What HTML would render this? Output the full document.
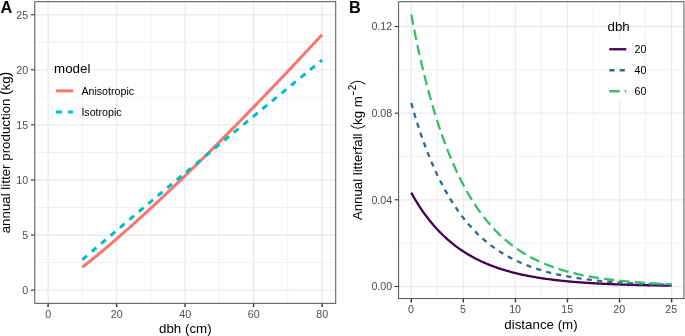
<!DOCTYPE html>
<html><head><meta charset="utf-8"><title>Figure</title>
<style>
html,body{margin:0;padding:0;background:#ffffff;}
body{width:685px;height:336px;overflow:hidden;font-family:"Liberation Sans",sans-serif;}
svg text{font-family:"Liberation Sans",sans-serif;}
</style></head><body>
<svg width="685" height="336" viewBox="0 0 685 336" style="display:block;will-change:transform">
<rect x="0" y="0" width="685" height="336" fill="#ffffff"/>
<g>
<line x1="82.34" x2="82.34" y1="1.3" y2="303.7" stroke="#ebebeb" stroke-width="0.7"/>
<line x1="150.84" x2="150.84" y1="1.3" y2="303.7" stroke="#ebebeb" stroke-width="0.7"/>
<line x1="219.32" x2="219.32" y1="1.3" y2="303.7" stroke="#ebebeb" stroke-width="0.7"/>
<line x1="287.81" x2="287.81" y1="1.3" y2="303.7" stroke="#ebebeb" stroke-width="0.7"/>
<line y1="262.55" y2="262.55" x1="34.4" x2="336.2" stroke="#ebebeb" stroke-width="0.7"/>
<line y1="207.48" y2="207.48" x1="34.4" x2="336.2" stroke="#ebebeb" stroke-width="0.7"/>
<line y1="152.42" y2="152.42" x1="34.4" x2="336.2" stroke="#ebebeb" stroke-width="0.7"/>
<line y1="97.35" y2="97.35" x1="34.4" x2="336.2" stroke="#ebebeb" stroke-width="0.7"/>
<line y1="42.29" y2="42.29" x1="34.4" x2="336.2" stroke="#ebebeb" stroke-width="0.7"/>
<line x1="48.10" x2="48.10" y1="1.3" y2="303.7" stroke="#ebebeb" stroke-width="1.35"/>
<line x1="116.59" x2="116.59" y1="1.3" y2="303.7" stroke="#ebebeb" stroke-width="1.35"/>
<line x1="185.08" x2="185.08" y1="1.3" y2="303.7" stroke="#ebebeb" stroke-width="1.35"/>
<line x1="253.57" x2="253.57" y1="1.3" y2="303.7" stroke="#ebebeb" stroke-width="1.35"/>
<line x1="322.06" x2="322.06" y1="1.3" y2="303.7" stroke="#ebebeb" stroke-width="1.35"/>
<line y1="290.08" y2="290.08" x1="34.4" x2="336.2" stroke="#ebebeb" stroke-width="1.35"/>
<line y1="235.01" y2="235.01" x1="34.4" x2="336.2" stroke="#ebebeb" stroke-width="1.35"/>
<line y1="179.95" y2="179.95" x1="34.4" x2="336.2" stroke="#ebebeb" stroke-width="1.35"/>
<line y1="124.88" y2="124.88" x1="34.4" x2="336.2" stroke="#ebebeb" stroke-width="1.35"/>
<line y1="69.82" y2="69.82" x1="34.4" x2="336.2" stroke="#ebebeb" stroke-width="1.35"/>
<line y1="14.75" y2="14.75" x1="34.4" x2="336.2" stroke="#ebebeb" stroke-width="1.35"/>
<polyline points="82.34,267.17 84.06,265.83 85.77,264.49 87.48,263.14 89.19,261.77 90.91,260.40 92.62,259.02 94.33,257.63 96.04,256.23 97.76,254.83 99.47,253.42 101.18,251.99 102.89,250.57 104.60,249.13 106.32,247.69 108.03,246.24 109.74,244.78 111.45,243.32 113.17,241.85 114.88,240.38 116.59,238.90 118.30,237.41 120.01,235.92 121.73,234.42 123.44,232.92 125.15,231.41 126.86,229.89 128.58,228.37 130.29,226.85 132.00,225.32 133.71,223.78 135.42,222.25 137.14,220.70 138.85,219.15 140.56,217.60 142.27,216.04 143.99,214.48 145.70,212.91 147.41,211.34 149.12,209.76 150.84,208.18 152.55,206.59 154.26,205.00 155.97,203.41 157.68,201.81 159.40,200.21 161.11,198.61 162.82,197.00 164.53,195.39 166.25,193.77 167.96,192.15 169.67,190.53 171.38,188.90 173.09,187.27 174.81,185.63 176.52,183.99 178.23,182.35 179.94,180.71 181.66,179.06 183.37,177.41 185.08,175.75 186.79,174.09 188.50,172.43 190.22,170.76 191.93,169.10 193.64,167.42 195.35,165.75 197.07,164.07 198.78,162.39 200.49,160.71 202.20,159.02 203.91,157.33 205.63,155.64 207.34,153.94 209.05,152.24 210.76,150.54 212.48,148.84 214.19,147.13 215.90,145.42 217.61,143.71 219.32,141.99 221.04,140.27 222.75,138.55 224.46,136.83 226.17,135.10 227.89,133.37 229.60,131.64 231.31,129.90 233.02,128.17 234.74,126.43 236.45,124.69 238.16,122.94 239.87,121.19 241.58,119.44 243.30,117.69 245.01,115.94 246.72,114.18 248.43,112.42 250.15,110.66 251.86,108.90 253.57,107.13 255.28,105.36 256.99,103.59 258.71,101.81 260.42,100.04 262.13,98.26 263.84,96.48 265.56,94.70 267.27,92.91 268.98,91.13 270.69,89.34 272.40,87.54 274.12,85.75 275.83,83.95 277.54,82.16 279.25,80.36 280.97,78.55 282.68,76.75 284.39,74.94 286.10,73.13 287.81,71.32 289.53,69.51 291.24,67.70 292.95,65.88 294.66,64.06 296.38,62.24 298.09,60.42 299.80,58.59 301.51,56.76 303.23,54.94 304.94,53.10 306.65,51.27 308.36,49.44 310.07,47.60 311.79,45.76 313.50,43.92 315.21,42.08 316.92,40.23 318.64,38.39 320.35,36.54 322.06,34.69" fill="none" stroke="#f8766d" stroke-width="3.0" stroke-linejoin="round"/>
<polyline points="82.34,259.74 84.06,258.26 85.77,256.79 87.48,255.31 89.19,253.84 90.91,252.37 92.62,250.90 94.33,249.44 96.04,247.97 97.76,246.51 99.47,245.04 101.18,243.58 102.89,242.12 104.60,240.66 106.32,239.20 108.03,237.74 109.74,236.29 111.45,234.83 113.17,233.38 114.88,231.92 116.59,230.47 118.30,229.02 120.01,227.57 121.73,226.12 123.44,224.67 125.15,223.22 126.86,221.78 128.58,220.33 130.29,218.89 132.00,217.44 133.71,216.00 135.42,214.55 137.14,213.11 138.85,211.67 140.56,210.23 142.27,208.79 143.99,207.35 145.70,205.91 147.41,204.47 149.12,203.03 150.84,201.60 152.55,200.16 154.26,198.72 155.97,197.29 157.68,195.85 159.40,194.42 161.11,192.99 162.82,191.55 164.53,190.12 166.25,188.69 167.96,187.26 169.67,185.83 171.38,184.40 173.09,182.97 174.81,181.54 176.52,180.11 178.23,178.68 179.94,177.25 181.66,175.82 183.37,174.40 185.08,172.97 186.79,171.55 188.50,170.12 190.22,168.69 191.93,167.27 193.64,165.85 195.35,164.42 197.07,163.00 198.78,161.58 200.49,160.15 202.20,158.73 203.91,157.31 205.63,155.89 207.34,154.47 209.05,153.05 210.76,151.63 212.48,150.21 214.19,148.79 215.90,147.37 217.61,145.95 219.32,144.53 221.04,143.11 222.75,141.70 224.46,140.28 226.17,138.86 227.89,137.45 229.60,136.03 231.31,134.62 233.02,133.20 234.74,131.78 236.45,130.37 238.16,128.96 239.87,127.54 241.58,126.13 243.30,124.71 245.01,123.30 246.72,121.89 248.43,120.48 250.15,119.06 251.86,117.65 253.57,116.24 255.28,114.83 256.99,113.42 258.71,112.01 260.42,110.60 262.13,109.19 263.84,107.78 265.56,106.37 267.27,104.96 268.98,103.55 270.69,102.14 272.40,100.73 274.12,99.32 275.83,97.92 277.54,96.51 279.25,95.10 280.97,93.70 282.68,92.29 284.39,90.88 286.10,89.48 287.81,88.07 289.53,86.66 291.24,85.26 292.95,83.85 294.66,82.45 296.38,81.04 298.09,79.64 299.80,78.24 301.51,76.83 303.23,75.43 304.94,74.02 306.65,72.62 308.36,71.22 310.07,69.82 311.79,68.41 313.50,67.01 315.21,65.61 316.92,64.21 318.64,62.81 320.35,61.40 322.06,60.00" fill="none" stroke="#00bfc4" stroke-width="3.0" stroke-dasharray="6.18 6.18" stroke-linejoin="round"/>
<rect x="54.2" y="80.70" width="21.00" height="42" fill="#ffffff"/>
<line x1="56.1" x2="73.1" y1="90.90" y2="90.90" stroke="#f8766d" stroke-width="3.0"/>
<text x="81.4" y="95.05" font-family="Liberation Sans, sans-serif" font-size="10.67" fill="#000000">Anisotropic</text>
<line x1="56.1" x2="73.1" y1="111.90" y2="111.90" stroke="#00bfc4" stroke-width="3.0" stroke-dasharray="6 6"/>
<text x="81.4" y="116.05" font-family="Liberation Sans, sans-serif" font-size="10.67" fill="#000000">Isotropic</text>
<text x="54.1" y="72.5" font-family="Liberation Sans, sans-serif" font-size="13.33" fill="#000000">model</text>
<rect x="34.82" y="1.73" width="300.95" height="301.55" fill="none" stroke="#333333" stroke-width="0.85"/>
<line x1="31.00" x2="34.4" y1="290.08" y2="290.08" stroke="#333333" stroke-width="1.15"/>
<text x="28.1" y="293.78" text-anchor="end" font-family="Liberation Sans, sans-serif" font-size="10.67" fill="#4d4d4d">0</text>
<line x1="31.00" x2="34.4" y1="235.01" y2="235.01" stroke="#333333" stroke-width="1.15"/>
<text x="28.1" y="238.71" text-anchor="end" font-family="Liberation Sans, sans-serif" font-size="10.67" fill="#4d4d4d">5</text>
<line x1="31.00" x2="34.4" y1="179.95" y2="179.95" stroke="#333333" stroke-width="1.15"/>
<text x="28.1" y="183.65" text-anchor="end" font-family="Liberation Sans, sans-serif" font-size="10.67" fill="#4d4d4d">10</text>
<line x1="31.00" x2="34.4" y1="124.88" y2="124.88" stroke="#333333" stroke-width="1.15"/>
<text x="28.1" y="128.58" text-anchor="end" font-family="Liberation Sans, sans-serif" font-size="10.67" fill="#4d4d4d">15</text>
<line x1="31.00" x2="34.4" y1="69.82" y2="69.82" stroke="#333333" stroke-width="1.15"/>
<text x="28.1" y="73.52" text-anchor="end" font-family="Liberation Sans, sans-serif" font-size="10.67" fill="#4d4d4d">20</text>
<line x1="31.00" x2="34.4" y1="14.75" y2="14.75" stroke="#333333" stroke-width="1.15"/>
<text x="28.1" y="19.20" text-anchor="end" font-family="Liberation Sans, sans-serif" font-size="10.67" fill="#4d4d4d">25</text>
<line y1="303.7" y2="307.10" x1="48.10" x2="48.10" stroke="#333333" stroke-width="1.4"/>
<text y="317.8" x="48.20" text-anchor="middle" font-family="Liberation Sans, sans-serif" font-size="10.67" fill="#4d4d4d">0</text>
<line y1="303.7" y2="307.10" x1="116.59" x2="116.59" stroke="#333333" stroke-width="1.4"/>
<text y="317.8" x="116.69" text-anchor="middle" font-family="Liberation Sans, sans-serif" font-size="10.67" fill="#4d4d4d">20</text>
<line y1="303.7" y2="307.10" x1="185.08" x2="185.08" stroke="#333333" stroke-width="1.4"/>
<text y="317.8" x="185.18" text-anchor="middle" font-family="Liberation Sans, sans-serif" font-size="10.67" fill="#4d4d4d">40</text>
<line y1="303.7" y2="307.10" x1="253.57" x2="253.57" stroke="#333333" stroke-width="1.4"/>
<text y="317.8" x="253.67" text-anchor="middle" font-family="Liberation Sans, sans-serif" font-size="10.67" fill="#4d4d4d">60</text>
<line y1="303.7" y2="307.10" x1="322.06" x2="322.06" stroke="#333333" stroke-width="1.4"/>
<text y="317.8" x="322.16" text-anchor="middle" font-family="Liberation Sans, sans-serif" font-size="10.67" fill="#4d4d4d">80</text>
<text x="185.3" y="332.85" text-anchor="middle" font-family="Liberation Sans, sans-serif" font-size="13.33" fill="#000000">dbh (cm)</text>
<text transform="translate(10.2,152.5) rotate(-90)" text-anchor="middle" font-family="Liberation Sans, sans-serif" font-size="13.33" fill="#000000">annual litter production <tspan font-size="15" dx="-0.3">(</tspan><tspan dx="-0.3">kg</tspan><tspan font-size="15" dx="-0.3">)</tspan></text>
<text x="0.45" y="12.75" font-family="Liberation Sans, sans-serif" font-size="16.3" font-weight="bold" fill="#000000">A</text>
</g>
<g>
<line x1="437.33" x2="437.33" y1="1.3" y2="299.05" stroke="#ebebeb" stroke-width="0.7"/>
<line x1="489.39" x2="489.39" y1="1.3" y2="299.05" stroke="#ebebeb" stroke-width="0.7"/>
<line x1="541.45" x2="541.45" y1="1.3" y2="299.05" stroke="#ebebeb" stroke-width="0.7"/>
<line x1="593.51" x2="593.51" y1="1.3" y2="299.05" stroke="#ebebeb" stroke-width="0.7"/>
<line x1="645.57" x2="645.57" y1="1.3" y2="299.05" stroke="#ebebeb" stroke-width="0.7"/>
<line y1="243.13" y2="243.13" x1="398.25" x2="684.35" stroke="#ebebeb" stroke-width="0.7"/>
<line y1="156.49" y2="156.49" x1="398.25" x2="684.35" stroke="#ebebeb" stroke-width="0.7"/>
<line y1="69.85" y2="69.85" x1="398.25" x2="684.35" stroke="#ebebeb" stroke-width="0.7"/>
<line x1="411.30" x2="411.30" y1="1.3" y2="299.05" stroke="#ebebeb" stroke-width="1.35"/>
<line x1="463.36" x2="463.36" y1="1.3" y2="299.05" stroke="#ebebeb" stroke-width="1.35"/>
<line x1="515.42" x2="515.42" y1="1.3" y2="299.05" stroke="#ebebeb" stroke-width="1.35"/>
<line x1="567.48" x2="567.48" y1="1.3" y2="299.05" stroke="#ebebeb" stroke-width="1.35"/>
<line x1="619.54" x2="619.54" y1="1.3" y2="299.05" stroke="#ebebeb" stroke-width="1.35"/>
<line x1="671.60" x2="671.60" y1="1.3" y2="299.05" stroke="#ebebeb" stroke-width="1.35"/>
<line y1="286.45" y2="286.45" x1="398.25" x2="684.35" stroke="#ebebeb" stroke-width="1.35"/>
<line y1="199.81" y2="199.81" x1="398.25" x2="684.35" stroke="#ebebeb" stroke-width="1.35"/>
<line y1="113.17" y2="113.17" x1="398.25" x2="684.35" stroke="#ebebeb" stroke-width="1.35"/>
<line y1="26.53" y2="26.53" x1="398.25" x2="684.35" stroke="#ebebeb" stroke-width="1.35"/>
<polyline points="411.30,192.66 412.34,194.61 413.38,196.47 414.42,198.28 415.46,200.04 416.51,201.76 417.55,203.45 418.59,205.09 419.63,206.70 420.67,208.28 421.71,209.82 422.75,211.32 423.79,212.80 424.84,214.24 425.88,215.66 426.92,217.05 427.96,218.40 429.00,219.73 430.04,221.04 431.08,222.31 432.12,223.56 433.17,224.79 434.21,225.99 435.25,227.16 436.29,228.31 437.33,229.44 438.37,230.55 439.41,231.63 440.45,232.70 441.49,233.74 442.54,234.76 443.58,235.76 444.62,236.74 445.66,237.70 446.70,238.64 447.74,239.57 448.78,240.47 449.82,241.36 450.87,242.23 451.91,243.08 452.95,243.92 453.99,244.74 455.03,245.54 456.07,246.33 457.11,247.10 458.15,247.86 459.20,248.60 460.24,249.33 461.28,250.04 462.32,250.74 463.36,251.43 464.40,252.10 465.44,252.76 466.48,253.41 467.52,254.04 468.57,254.66 469.61,255.27 470.65,255.87 471.69,256.46 472.73,257.03 473.77,257.59 474.81,258.15 475.85,258.69 476.90,259.22 477.94,259.74 478.98,260.25 480.02,260.75 481.06,261.25 482.10,261.73 483.14,262.20 484.18,262.66 485.23,263.12 486.27,263.56 487.31,264.00 488.35,264.43 489.39,264.85 490.43,265.26 491.47,265.67 492.51,266.06 493.55,266.45 494.60,266.83 495.64,267.21 496.68,267.57 497.72,267.93 498.76,268.29 499.80,268.63 500.84,268.97 501.88,269.31 502.93,269.63 503.97,269.95 505.01,270.27 506.05,270.57 507.09,270.88 508.13,271.17 509.17,271.46 510.21,271.75 511.26,272.03 512.30,272.30 513.34,272.57 514.38,272.84 515.42,273.09 516.46,273.35 517.50,273.60 518.54,273.84 519.58,274.08 520.63,274.32 521.67,274.55 522.71,274.77 523.75,274.99 524.79,275.21 525.83,275.42 526.87,275.63 527.91,275.84 528.96,276.04 530.00,276.24 531.04,276.43 532.08,276.62 533.12,276.81 534.16,276.99 535.20,277.17 536.24,277.35 537.29,277.52 538.33,277.69 539.37,277.85 540.41,278.02 541.45,278.18 542.49,278.33 543.53,278.49 544.57,278.64 545.61,278.79 546.66,278.93 547.70,279.07 548.74,279.21 549.78,279.35 550.82,279.48 551.86,279.62 552.90,279.74 553.94,279.87 554.99,280.00 556.03,280.12 557.07,280.24 558.11,280.36 559.15,280.47 560.19,280.58 561.23,280.69 562.27,280.80 563.32,280.91 564.36,281.01 565.40,281.12 566.44,281.22 567.48,281.32 568.52,281.41 569.56,281.51 570.60,281.60 571.64,281.69 572.69,281.78 573.73,281.87 574.77,281.96 575.81,282.04 576.85,282.13 577.89,282.21 578.93,282.29 579.97,282.37 581.02,282.44 582.06,282.52 583.10,282.59 584.14,282.67 585.18,282.74 586.22,282.81 587.26,282.88 588.30,282.94 589.35,283.01 590.39,283.07 591.43,283.14 592.47,283.20 593.51,283.26 594.55,283.32 595.59,283.38 596.63,283.44 597.67,283.49 598.72,283.55 599.76,283.61 600.80,283.66 601.84,283.71 602.88,283.76 603.92,283.81 604.96,283.86 606.00,283.91 607.05,283.96 608.09,284.01 609.13,284.05 610.17,284.10 611.21,284.14 612.25,284.19 613.29,284.23 614.33,284.27 615.38,284.31 616.42,284.35 617.46,284.39 618.50,284.43 619.54,284.47 620.58,284.50 621.62,284.54 622.66,284.58 623.70,284.61 624.75,284.65 625.79,284.68 626.83,284.71 627.87,284.75 628.91,284.78 629.95,284.81 630.99,284.84 632.03,284.87 633.08,284.90 634.12,284.93 635.16,284.96 636.20,284.99 637.24,285.01 638.28,285.04 639.32,285.07 640.36,285.09 641.41,285.12 642.45,285.14 643.49,285.17 644.53,285.19 645.57,285.22 646.61,285.24 647.65,285.26 648.69,285.28 649.73,285.31 650.78,285.33 651.82,285.35 652.86,285.37 653.90,285.39 654.94,285.41 655.98,285.43 657.02,285.45 658.06,285.47 659.11,285.49 660.15,285.50 661.19,285.52 662.23,285.54 663.27,285.56 664.31,285.57 665.35,285.59 666.39,285.60 667.44,285.62 668.48,285.64 669.52,285.65 670.56,285.67 671.60,285.68" fill="none" stroke="#440154" stroke-width="2.3" stroke-linejoin="round"/>
<polyline points="411.30,102.99 412.34,106.79 413.38,110.43 414.42,113.97 415.46,117.43 416.51,120.79 417.55,124.09 418.59,127.30 419.63,130.45 420.67,133.53 421.71,136.54 422.75,139.49 423.79,142.38 424.84,145.21 425.88,147.98 426.92,150.69 427.96,153.34 429.00,155.94 430.04,158.49 431.08,160.99 432.12,163.43 433.17,165.83 434.21,168.17 435.25,170.47 436.29,172.73 437.33,174.94 438.37,177.10 439.41,179.22 440.45,181.30 441.49,183.34 442.54,185.33 443.58,187.29 444.62,189.21 445.66,191.09 446.70,192.93 447.74,194.74 448.78,196.51 449.82,198.25 450.87,199.95 451.91,201.62 452.95,203.25 453.99,204.86 455.03,206.43 456.07,207.97 457.11,209.48 458.15,210.96 459.20,212.41 460.24,213.84 461.28,215.23 462.32,216.60 463.36,217.94 464.40,219.26 465.44,220.55 466.48,221.81 467.52,223.05 468.57,224.27 469.61,225.46 470.65,226.63 471.69,227.78 472.73,228.90 473.77,230.01 474.81,231.09 475.85,232.15 476.90,233.19 477.94,234.21 478.98,235.21 480.02,236.19 481.06,237.15 482.10,238.09 483.14,239.01 484.18,239.92 485.23,240.81 486.27,241.68 487.31,242.54 488.35,243.38 489.39,244.20 490.43,245.00 491.47,245.80 492.51,246.57 493.55,247.33 494.60,248.08 495.64,248.81 496.68,249.53 497.72,250.23 498.76,250.92 499.80,251.60 500.84,252.26 501.88,252.91 502.93,253.55 503.97,254.18 505.01,254.79 506.05,255.40 507.09,255.99 508.13,256.57 509.17,257.13 510.21,257.69 511.26,258.24 512.30,258.78 513.34,259.30 514.38,259.82 515.42,260.32 516.46,260.82 517.50,261.31 518.54,261.79 519.58,262.25 520.63,262.71 521.67,263.16 522.71,263.61 523.75,264.04 524.79,264.47 525.83,264.88 526.87,265.29 527.91,265.69 528.96,266.09 530.00,266.47 531.04,266.85 532.08,267.22 533.12,267.59 534.16,267.95 535.20,268.30 536.24,268.64 537.29,268.98 538.33,269.31 539.37,269.63 540.41,269.95 541.45,270.27 542.49,270.57 543.53,270.87 544.57,271.17 545.61,271.46 546.66,271.74 547.70,272.02 548.74,272.29 549.78,272.56 550.82,272.82 551.86,273.08 552.90,273.33 553.94,273.58 554.99,273.83 556.03,274.06 557.07,274.30 558.11,274.53 559.15,274.75 560.19,274.97 561.23,275.19 562.27,275.40 563.32,275.61 564.36,275.82 565.40,276.02 566.44,276.22 567.48,276.41 568.52,276.60 569.56,276.78 570.60,276.97 571.64,277.15 572.69,277.32 573.73,277.49 574.77,277.66 575.81,277.83 576.85,277.99 577.89,278.15 578.93,278.31 579.97,278.46 581.02,278.61 582.06,278.76 583.10,278.91 584.14,279.05 585.18,279.19 586.22,279.32 587.26,279.46 588.30,279.59 589.35,279.72 590.39,279.85 591.43,279.97 592.47,280.09 593.51,280.21 594.55,280.33 595.59,280.45 596.63,280.56 597.67,280.67 598.72,280.78 599.76,280.89 600.80,280.99 601.84,281.09 602.88,281.19 603.92,281.29 604.96,281.39 606.00,281.49 607.05,281.58 608.09,281.67 609.13,281.76 610.17,281.85 611.21,281.93 612.25,282.02 613.29,282.10 614.33,282.19 615.38,282.27 616.42,282.34 617.46,282.42 618.50,282.50 619.54,282.57 620.58,282.64 621.62,282.72 622.66,282.79 623.70,282.85 624.75,282.92 625.79,282.99 626.83,283.05 627.87,283.12 628.91,283.18 629.95,283.24 630.99,283.30 632.03,283.36 633.08,283.42 634.12,283.48 635.16,283.53 636.20,283.59 637.24,283.64 638.28,283.69 639.32,283.75 640.36,283.80 641.41,283.85 642.45,283.89 643.49,283.94 644.53,283.99 645.57,284.04 646.61,284.08 647.65,284.13 648.69,284.17 649.73,284.21 650.78,284.25 651.82,284.30 652.86,284.34 653.90,284.38 654.94,284.41 655.98,284.45 657.02,284.49 658.06,284.53 659.11,284.56 660.15,284.60 661.19,284.63 662.23,284.67 663.27,284.70 664.31,284.73 665.35,284.77 666.39,284.80 667.44,284.83 668.48,284.86 669.52,284.89 670.56,284.92 671.60,284.95" fill="none" stroke="#31688e" stroke-width="2.3" stroke-linejoin="round" stroke-dasharray="5.17 5.17"/>
<polyline points="411.30,14.62 412.34,20.25 413.38,25.65 414.42,30.89 415.46,36.01 416.51,41.00 417.55,45.88 418.59,50.64 419.63,55.31 420.67,59.87 421.71,64.33 422.75,68.70 423.79,72.98 424.84,77.17 425.88,81.27 426.92,85.29 427.96,89.22 429.00,93.08 430.04,96.85 431.08,100.55 432.12,104.17 433.17,107.72 434.21,111.20 435.25,114.61 436.29,117.95 437.33,121.22 438.37,124.43 439.41,127.57 440.45,130.65 441.49,133.67 442.54,136.63 443.58,139.53 444.62,142.37 445.66,145.16 446.70,147.89 447.74,150.56 448.78,153.19 449.82,155.76 450.87,158.28 451.91,160.75 452.95,163.18 453.99,165.55 455.03,167.88 456.07,170.16 457.11,172.40 458.15,174.60 459.20,176.75 460.24,178.86 461.28,180.93 462.32,182.96 463.36,184.94 464.40,186.89 465.44,188.80 466.48,190.68 467.52,192.52 468.57,194.32 469.61,196.09 470.65,197.82 471.69,199.52 472.73,201.18 473.77,202.82 474.81,204.42 475.85,205.99 476.90,207.53 477.94,209.04 478.98,210.52 480.02,211.97 481.06,213.40 482.10,214.79 483.14,216.16 484.18,217.51 485.23,218.83 486.27,220.12 487.31,221.38 488.35,222.63 489.39,223.85 490.43,225.04 491.47,226.21 492.51,227.36 493.55,228.49 494.60,229.59 495.64,230.68 496.68,231.74 497.72,232.78 498.76,233.81 499.80,234.81 500.84,235.79 501.88,236.76 502.93,237.71 503.97,238.63 505.01,239.54 506.05,240.44 507.09,241.31 508.13,242.17 509.17,243.01 510.21,243.84 511.26,244.65 512.30,245.45 513.34,246.22 514.38,246.99 515.42,247.74 516.46,248.48 517.50,249.20 518.54,249.90 519.58,250.60 520.63,251.28 521.67,251.95 522.71,252.60 523.75,253.25 524.79,253.88 525.83,254.49 526.87,255.10 527.91,255.70 528.96,256.28 530.00,256.85 531.04,257.41 532.08,257.96 533.12,258.50 534.16,259.03 535.20,259.55 536.24,260.06 537.29,260.56 538.33,261.05 539.37,261.53 540.41,262.01 541.45,262.47 542.49,262.92 543.53,263.37 544.57,263.81 545.61,264.23 546.66,264.66 547.70,265.07 548.74,265.47 549.78,265.87 550.82,266.26 551.86,266.64 552.90,267.02 553.94,267.38 554.99,267.74 556.03,268.10 557.07,268.44 558.11,268.79 559.15,269.12 560.19,269.45 561.23,269.77 562.27,270.08 563.32,270.39 564.36,270.70 565.40,270.99 566.44,271.29 567.48,271.57 568.52,271.85 569.56,272.13 570.60,272.40 571.64,272.66 572.69,272.92 573.73,273.18 574.77,273.43 575.81,273.68 576.85,273.92 577.89,274.15 578.93,274.39 579.97,274.61 581.02,274.84 582.06,275.06 583.10,275.27 584.14,275.48 585.18,275.69 586.22,275.89 587.26,276.09 588.30,276.29 589.35,276.48 590.39,276.67 591.43,276.85 592.47,277.03 593.51,277.21 594.55,277.38 595.59,277.55 596.63,277.72 597.67,277.89 598.72,278.05 599.76,278.20 600.80,278.36 601.84,278.51 602.88,278.66 603.92,278.81 604.96,278.95 606.00,279.09 607.05,279.23 608.09,279.37 609.13,279.50 610.17,279.63 611.21,279.76 612.25,279.89 613.29,280.01 614.33,280.13 615.38,280.25 616.42,280.37 617.46,280.48 618.50,280.59 619.54,280.70 620.58,280.81 621.62,280.92 622.66,281.02 623.70,281.12 624.75,281.22 625.79,281.32 626.83,281.42 627.87,281.51 628.91,281.61 629.95,281.70 630.99,281.79 632.03,281.87 633.08,281.96 634.12,282.04 635.16,282.13 636.20,282.21 637.24,282.29 638.28,282.37 639.32,282.44 640.36,282.52 641.41,282.59 642.45,282.66 643.49,282.73 644.53,282.80 645.57,282.87 646.61,282.94 647.65,283.01 648.69,283.07 649.73,283.13 650.78,283.20 651.82,283.26 652.86,283.32 653.90,283.38 654.94,283.43 655.98,283.49 657.02,283.55 658.06,283.60 659.11,283.65 660.15,283.71 661.19,283.76 662.23,283.81 663.27,283.86 664.31,283.91 665.35,283.95 666.39,284.00 667.44,284.05 668.48,284.09 669.52,284.14 670.56,284.18 671.60,284.22" fill="none" stroke="#3cbb6c" stroke-width="2.3" stroke-linejoin="round" stroke-dasharray="10.31 5.16"/>
<rect x="607.3" y="38.70" width="21" height="63" fill="#ffffff"/>
<line x1="609.3" x2="626.3" y1="49.25" y2="49.25" stroke="#440154" stroke-width="2.3"/>
<text x="634.6" y="53.30" font-family="Liberation Sans, sans-serif" font-size="10.67" fill="#000000">20</text>
<line x1="609.3" x2="626.3" y1="70.25" y2="70.25" stroke="#31688e" stroke-width="2.3" stroke-dasharray="5.17 5.17"/>
<text x="634.6" y="74.30" font-family="Liberation Sans, sans-serif" font-size="10.67" fill="#000000">40</text>
<line x1="609.3" x2="626.3" y1="91.25" y2="91.25" stroke="#3cbb6c" stroke-width="2.3" stroke-dasharray="10.31 5.16"/>
<text x="634.6" y="95.30" font-family="Liberation Sans, sans-serif" font-size="10.67" fill="#000000">60</text>
<text x="607.5" y="30.7" font-family="Liberation Sans, sans-serif" font-size="13.33" fill="#000000">dbh</text>
<rect x="398.68" y="1.73" width="285.25" height="296.90" fill="none" stroke="#333333" stroke-width="0.85"/>
<line x1="394.85" x2="398.25" y1="286.45" y2="286.45" stroke="#333333" stroke-width="1.15"/>
<text x="392.2" y="290.30" text-anchor="end" font-family="Liberation Sans, sans-serif" font-size="10.67" fill="#4d4d4d">0.00</text>
<line x1="394.85" x2="398.25" y1="199.81" y2="199.81" stroke="#333333" stroke-width="1.15"/>
<text x="392.2" y="203.66" text-anchor="end" font-family="Liberation Sans, sans-serif" font-size="10.67" fill="#4d4d4d">0.04</text>
<line x1="394.85" x2="398.25" y1="113.17" y2="113.17" stroke="#333333" stroke-width="1.15"/>
<text x="392.2" y="117.02" text-anchor="end" font-family="Liberation Sans, sans-serif" font-size="10.67" fill="#4d4d4d">0.08</text>
<line x1="394.85" x2="398.25" y1="26.53" y2="26.53" stroke="#333333" stroke-width="1.15"/>
<text x="392.2" y="30.38" text-anchor="end" font-family="Liberation Sans, sans-serif" font-size="10.67" fill="#4d4d4d">0.12</text>
<line y1="299.05" y2="302.45" x1="411.30" x2="411.30" stroke="#333333" stroke-width="1.4"/>
<text y="312.9" x="411.00" text-anchor="middle" font-family="Liberation Sans, sans-serif" font-size="10.67" fill="#4d4d4d">0</text>
<line y1="299.05" y2="302.45" x1="463.36" x2="463.36" stroke="#333333" stroke-width="1.4"/>
<text y="312.9" x="463.06" text-anchor="middle" font-family="Liberation Sans, sans-serif" font-size="10.67" fill="#4d4d4d">5</text>
<line y1="299.05" y2="302.45" x1="515.42" x2="515.42" stroke="#333333" stroke-width="1.4"/>
<text y="312.9" x="515.12" text-anchor="middle" font-family="Liberation Sans, sans-serif" font-size="10.67" fill="#4d4d4d">10</text>
<line y1="299.05" y2="302.45" x1="567.48" x2="567.48" stroke="#333333" stroke-width="1.4"/>
<text y="312.9" x="567.18" text-anchor="middle" font-family="Liberation Sans, sans-serif" font-size="10.67" fill="#4d4d4d">15</text>
<line y1="299.05" y2="302.45" x1="619.54" x2="619.54" stroke="#333333" stroke-width="1.4"/>
<text y="312.9" x="619.24" text-anchor="middle" font-family="Liberation Sans, sans-serif" font-size="10.67" fill="#4d4d4d">20</text>
<line y1="299.05" y2="302.45" x1="671.60" x2="671.60" stroke="#333333" stroke-width="1.4"/>
<text y="312.9" x="671.30" text-anchor="middle" font-family="Liberation Sans, sans-serif" font-size="10.67" fill="#4d4d4d">25</text>
<text x="541.0" y="329.45" text-anchor="middle" font-family="Liberation Sans, sans-serif" font-size="13.33" fill="#000000">distance (m)</text>
<text transform="translate(361.8,220.1) rotate(-90)" font-family="Liberation Sans, sans-serif" font-size="13.33" letter-spacing="-0.05" fill="#000000">Annual litterfall <tspan dx="4.95">kg m</tspan></text>
<path d="M350.9,125.6 Q357.85,130.9 364.8,125.6" fill="none" stroke="#000000" stroke-width="1.05" stroke-linecap="round"/>
<line x1="353.4" x2="353.4" y1="95.2" y2="91.3" stroke="#000000" stroke-width="0.95"/>
<text transform="translate(356.1,90.25) rotate(-90) scale(0.87,1)" font-family="Liberation Sans, sans-serif" font-size="11.4" fill="#000000">2</text>
<path d="M350.9,83.9 Q357.85,78.7 364.8,83.9" fill="none" stroke="#000000" stroke-width="1.05" stroke-linecap="round"/>
<text x="349.0" y="12.75" font-family="Liberation Sans, sans-serif" font-size="16.3" font-weight="bold" fill="#000000">B</text>
</g>
</svg>
</body></html>
